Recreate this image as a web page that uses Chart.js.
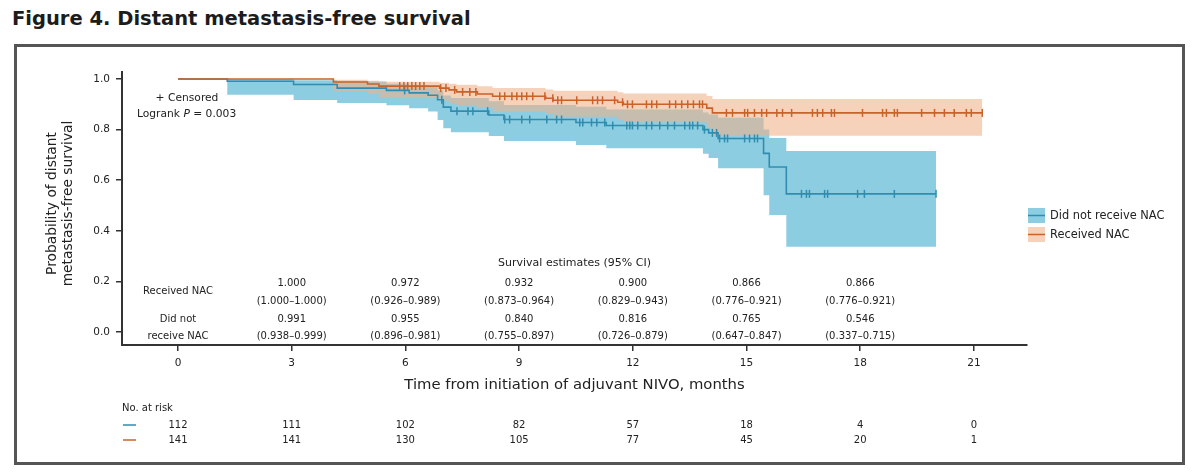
<!DOCTYPE html>
<html>
<head>
<meta charset="utf-8">
<script src="https://cdn.jsdelivr.net/npm/chart.js@4.4.0/dist/chart.umd.min.js"></script>
<style>
body { margin:0; background:#fff; width:1200px; height:476px; overflow:hidden; position:relative; font-family:"DejaVu Sans", sans-serif; }
#title { position:absolute; left:12px; top:7px; font-size:19.5px; font-weight:bold; color:#1c1c1c; }
#frame { position:absolute; left:14px; top:44px; width:1165px; height:415px; border:3px solid #555; }
canvas { position:absolute; left:0; top:0; }
</style>
</head>
<body>
<div id="title">Figure 4. Distant metastasis-free survival</div>
<div id="frame"></div>
<canvas id="km" width="1200" height="476"></canvas>
<script>
// axis ticks
var months = [0, 3, 6, 9, 12, 15, 18, 21];
var yTicks = [0, 0.2, 0.4, 0.6, 0.8, 1.0];

// Did not receive NAC (KM steps + 95% CI)
var noNacTime  = [0, 1.3, 3.05, 4.2, 5.5, 6.1, 6.6, 6.85, 7.0, 7.2, 8.2, 8.6, 10.5, 11.3, 13.85, 14.0, 14.25, 15.45, 15.6, 16.05, 20.0];
var noNacSurv  = [1.0, 0.991, 0.978, 0.964, 0.955, 0.945, 0.936, 0.918, 0.889, 0.873, 0.858, 0.840, 0.828, 0.816, 0.800, 0.787, 0.765, 0.706, 0.652, 0.546, 0.546];
var noNacLower = [1.0, 0.938, 0.917, 0.905, 0.896, 0.884, 0.872, 0.838, 0.805, 0.790, 0.775, 0.755, 0.739, 0.726, 0.705, 0.688, 0.647, 0.541, 0.462, 0.337, 0.337];
var noNacUpper = [1.0, 0.999, 0.995, 0.990, 0.981, 0.976, 0.970, 0.955, 0.935, 0.925, 0.912, 0.897, 0.890, 0.879, 0.868, 0.860, 0.847, 0.800, 0.767, 0.715, 0.715];
var noNacCens  = [5.98, 6.96, 7.36, 7.65, 7.78, 8.17, 8.62, 8.75, 9.07, 9.28, 9.73, 9.99, 10.12, 10.60, 10.68, 10.91, 11.05, 11.26, 11.47, 11.84, 11.92, 11.99, 12.13, 12.36, 12.50, 12.71, 12.92, 13.10, 13.37, 13.50, 13.58, 13.71, 13.89, 14.10, 14.21, 14.29, 14.42, 14.50, 14.95, 15.08, 15.21, 15.29, 16.45, 16.58, 16.66, 17.06, 17.14, 17.93, 18.11, 18.90, 20.0];

// Received NAC
var nacTime  = [0, 4.1, 5.0, 5.3, 6.9, 7.15, 7.35, 7.9, 8.3, 9.7, 9.9, 11.6, 11.75, 13.95, 14.1, 21.22];
var nacSurv  = [1.0, 0.988, 0.980, 0.972, 0.964, 0.957, 0.949, 0.941, 0.932, 0.924, 0.916, 0.908, 0.900, 0.885, 0.866, 0.866];
var nacLower = [1.0, 0.953, 0.941, 0.926, 0.915, 0.905, 0.895, 0.885, 0.873, 0.862, 0.851, 0.840, 0.829, 0.805, 0.776, 0.776];
var nacUpper = [1.0, 0.997, 0.993, 0.989, 0.985, 0.981, 0.977, 0.971, 0.964, 0.959, 0.954, 0.948, 0.943, 0.933, 0.921, 0.921];
var nacCens  = [5.85, 5.96, 6.06, 6.17, 6.27, 6.38, 6.49, 6.93, 7.07, 7.30, 7.51, 7.70, 7.86, 8.49, 8.62, 8.81, 8.94, 9.07, 9.20, 9.36, 9.68, 9.89, 10.02, 10.12, 10.52, 10.94, 11.07, 11.20, 11.52, 11.73, 11.86, 11.99, 12.36, 12.50, 12.63, 12.97, 13.13, 13.29, 13.45, 13.60, 13.76, 13.84, 14.47, 14.63, 14.95, 15.03, 15.21, 15.40, 15.53, 15.80, 15.95, 16.19, 16.74, 16.87, 17.01, 17.24, 17.32, 18.06, 18.59, 18.69, 18.90, 18.98, 19.62, 19.96, 20.22, 20.48, 20.80, 20.93, 21.22];

// survival estimates table
var estMonths = [3, 6, 9, 12, 15, 18];
var nacEst   = ['1.000', '0.972', '0.932', '0.900', '0.866', '0.866'];
var nacCI    = ['(1.000–1.000)', '(0.926–0.989)', '(0.873–0.964)', '(0.829–0.943)', '(0.776–0.921)', '(0.776–0.921)'];
var noNacEst = ['0.991', '0.955', '0.840', '0.816', '0.765', '0.546'];
var noNacCI  = ['(0.938–0.999)', '(0.896–0.981)', '(0.755–0.897)', '(0.726–0.879)', '(0.647–0.847)', '(0.337–0.715)'];

// number at risk
var riskNoNac = [112, 111, 102, 82, 57, 18, 4, 0];
var riskNac   = [141, 141, 130, 105, 77, 45, 20, 1];

var blueLine = '#2f8db0';
var blueBand = 'rgba(141,205,225,1)';
var orangeLine = '#c8632c';
var orangeBand = 'rgba(240,178,138,0.58)';
var txt = '#222';
var font = '"DejaVu Sans", sans-serif';

var toPts = function(t, v) {
    var pts = [];
    for (let i = 0; i < t.length; i++) pts.push({x: t[i], y: v[i]});
    return pts;
};

var survAt = function(t, v, x) {
    var s = v[0];
    for (let i = 0; i < t.length; i++) { if (t[i] <= x) s = v[i]; }
    return s;
};

var censPts = function(cens, t, v) {
    return cens.map(function(c) { return {x: c, y: survAt(t, v, c)}; });
};

var bandSet = function(data, color, fill, order) {
    return { data: data, stepped: true, borderWidth: 0, pointRadius: 0,
             backgroundColor: color, fill: fill, order: order };
};

var textPlugin = {
    id: 'kmText',
    afterDraw: function(chart) {
        var c = chart.ctx, a = chart.chartArea, xs = chart.scales.x;
        c.save();
        c.fillStyle = txt;
        c.textBaseline = 'middle';

        // censored note + logrank
        c.font = '10.7px ' + font;
        c.textAlign = 'center';
        c.fillText('+ Censored', a.left + 65, a.top + 26);
        c.textAlign = 'left';
        var lx = a.left + 15, ly = a.top + 42;
        c.fillText('Logrank ', lx, ly);
        lx += c.measureText('Logrank ').width;
        c.font = 'italic 10.7px ' + font;
        c.fillText('P', lx, ly);
        lx += c.measureText('P').width;
        c.font = '10.7px ' + font;
        c.fillText(' = 0.003', lx, ly);

        // estimates table
        c.textAlign = 'center';
        c.font = '11px ' + font;
        c.fillText('Survival estimates (95% CI)', (a.left + a.right) / 2, a.bottom - 82);
        c.font = '10px ' + font;
        var x0 = xs.getPixelForValue(0);
        c.fillText('Received NAC', x0, a.bottom - 54);
        c.fillText('Did not', x0, a.bottom - 26);
        c.fillText('receive NAC', x0, a.bottom - 9);
        for (let i = 0; i < estMonths.length; i++) {
            var px = xs.getPixelForValue(estMonths[i]);
            c.fillText(nacEst[i], px, a.bottom - 62);
            c.fillText(nacCI[i], px, a.bottom - 44);
            c.fillText(noNacEst[i], px, a.bottom - 26);
            c.fillText(noNacCI[i], px, a.bottom - 9);
        }

        // axis titles
        c.font = '14.8px ' + font;
        c.fillText('Time from initiation of adjuvant NIVO, months', (a.left + a.right) / 2, a.bottom + 40);
        c.save();
        c.translate(a.left - 62, (a.top + a.bottom) / 2 - 5);
        c.rotate(-Math.PI / 2);
        c.font = '13.8px ' + font;
        c.fillText('Probability of distant', 0, -8);
        c.fillText('metastasis-free survival', 0, 8);
        c.restore();

        // number at risk
        c.font = '10px ' + font;
        c.textAlign = 'left';
        c.fillText('No. at risk', a.left, a.bottom + 63);
        c.textAlign = 'center';
        var r1 = a.bottom + 80, r2 = a.bottom + 95;
        c.lineWidth = 1.5;
        c.strokeStyle = blueLine;
        c.beginPath(); c.moveTo(a.left + 1, r1); c.lineTo(a.left + 14, r1); c.stroke();
        c.strokeStyle = orangeLine;
        c.beginPath(); c.moveTo(a.left + 1, r2); c.lineTo(a.left + 14, r2); c.stroke();
        for (let i = 0; i < months.length; i++) {
            var mx = xs.getPixelForValue(months[i]);
            c.fillText(String(riskNoNac[i]), mx, r1);
            c.fillText(String(riskNac[i]), mx, r2);
        }

        // legend
        var items = [['Did not receive NAC', blueBand, blueLine], ['Received NAC', orangeBand, orangeLine]];
        c.textAlign = 'left';
        c.font = '11.4px ' + font;
        for (let i = 0; i < items.length; i++) {
            var by = 208 + i * 19;
            c.fillStyle = items[i][1];
            c.fillRect(1028, by, 17, 15);
            c.strokeStyle = items[i][2];
            c.lineWidth = 1.5;
            c.beginPath(); c.moveTo(1028, by + 7.5); c.lineTo(1045, by + 7.5); c.stroke();
            c.fillStyle = txt;
            c.fillText(items[i][0], 1050, by + 8);
        }
        c.restore();
    }
};

var ctx = document.getElementById('km');
var chart = new Chart(ctx, {
    type: 'line',
    data: {
        datasets: [
            bandSet(toPts(noNacTime, noNacLower), blueBand, false, 10),
            bandSet(toPts(noNacTime, noNacUpper), blueBand, '-1', 9),
            bandSet(toPts(nacTime, nacLower), orangeBand, false, 8),
            bandSet(toPts(nacTime, nacUpper), orangeBand, '-1', 7),
            { label: 'Did not receive NAC', data: toPts(noNacTime, noNacSurv), stepped: true,
              borderColor: blueLine, borderWidth: 1.6, pointRadius: 0, fill: false, order: 3 },
            { label: 'Received NAC', data: toPts(nacTime, nacSurv), stepped: true,
              borderColor: orangeLine, borderWidth: 1.6, pointRadius: 0, fill: false, order: 2 },
            { data: censPts(noNacCens, noNacTime, noNacSurv), showLine: false, pointStyle: 'line',
              rotation: 90, pointRadius: 4, pointBorderWidth: 1.5, pointBorderColor: blueLine,
              borderColor: blueLine, order: 1 },
            { data: censPts(nacCens, nacTime, nacSurv), showLine: false, pointStyle: 'line',
              rotation: 90, pointRadius: 4, pointBorderWidth: 1.5, pointBorderColor: orangeLine,
              borderColor: orangeLine, order: 0 }
        ]
    },
    options: {
        responsive: false,
        animation: false,
        events: [],
        layout: { padding: { left: 82, right: 173, top: 72, bottom: 91 } },
        plugins: { legend: { display: false }, tooltip: { enabled: false }, title: { display: false } },
        scales: {
            x: {
                type: 'linear', min: -1.477, max: 22.4,
                afterBuildTicks: function(s) { s.ticks = months.map(function(v) { return {value: v}; }); },
                afterFit: function(s) { s.height = 40; },
                grid: { drawOnChartArea: false, drawTicks: true, tickLength: 6, color: '#333', lineWidth: 1.5 },
                border: { display: true, color: '#333', width: 2 },
                ticks: { color: txt, font: { family: font, size: 10.5 }, padding: 6, maxRotation: 0 }
            },
            y: {
                type: 'linear', min: -0.0514, max: 1.0277,
                afterBuildTicks: function(s) { s.ticks = yTicks.map(function(v) { return {value: v}; }); },
                afterFit: function(s) { s.width = 40; },
                grid: { drawOnChartArea: false, drawTicks: true, tickLength: 6, color: '#333', lineWidth: 1.5 },
                border: { display: true, color: '#333', width: 2 },
                ticks: { color: txt, font: { family: font, size: 10.5 }, padding: 6,
                         callback: function(v) { return v.toFixed(1); } }
            }
        }
    },
    plugins: [textPlugin]
});
</script>
</body>
</html>
